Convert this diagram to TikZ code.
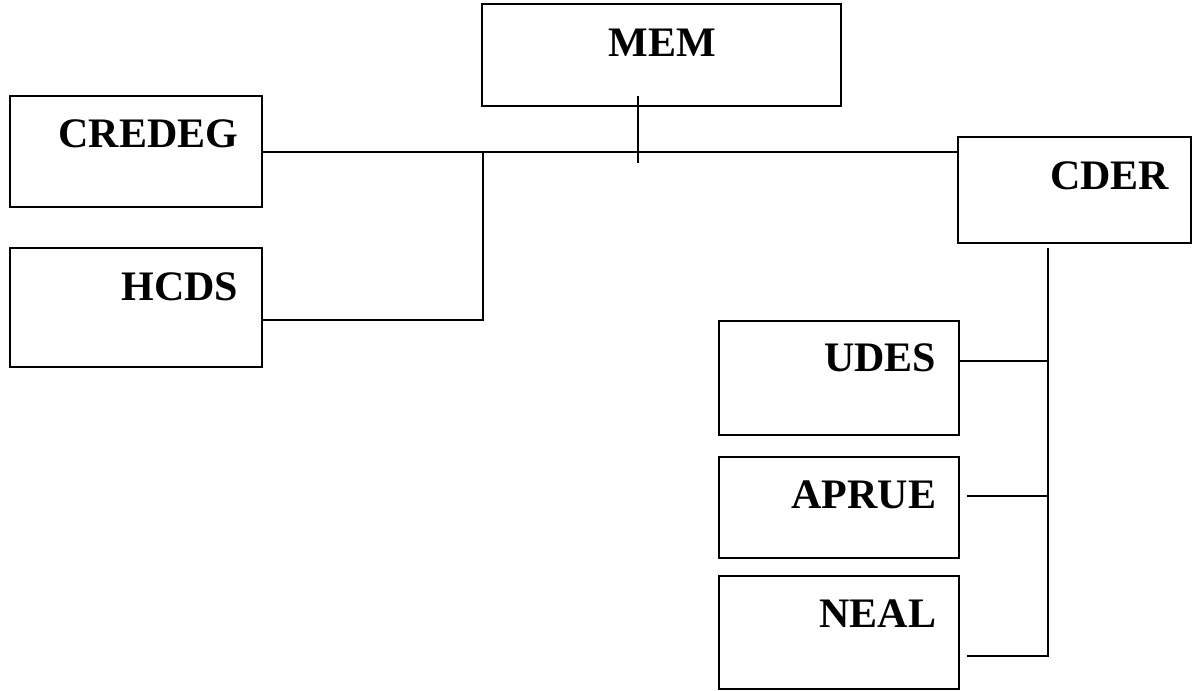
\documentclass[tikz,border=0pt]{standalone}
\usepackage{fontspec}
\setmainfont{Liberation Serif}
\begin{document}
\begin{tikzpicture}[x=1pt,y=-1pt,line width=1.5pt,
  box/.style={draw=black,line width=1.5pt,inner sep=0pt},
  lbl/.style={anchor=base east,inner sep=0pt,font=\fontsize{42}{48}\selectfont\bfseries},
  conn/.style={draw=black,line width=1.5pt}]
\useasboundingbox (0,0) rectangle (1192,691);
% boxes
\node[box,minimum width=359pt,minimum height=102pt] (mem) at (661.5,55) {};
\node[box,minimum width=252pt,minimum height=111pt] (credeg) at (136,151.5) {};
\node[box,minimum width=252pt,minimum height=119pt] (hcds) at (136,307.5) {};
\node[box,minimum width=233pt,minimum height=106pt] (cder) at (1074.5,190) {};
\node[box,minimum width=240pt,minimum height=114pt] (udes) at (839,378) {};
\node[box,minimum width=240pt,minimum height=101pt] (aprue) at (839,507.5) {};
\node[box,minimum width=240pt,minimum height=113pt] (neal) at (839,632.5) {};
% labels
\node[anchor=base,inner sep=0pt,font=\fontsize{42}{48}\selectfont\bfseries] (memt) at (662,56) {MEM};
\node[lbl] (credegt) at (239,147) {CREDEG};
\node[lbl] (hcdst) at (239,300) {HCDS};
\node[lbl] (cdert) at (1170,189) {CDER};
\node[lbl] (udest) at (937,371) {UDES};
\node[lbl] (apruet) at (937,508) {APRUE};
\node[lbl] (nealt) at (937,627) {NEAL};
% coordinates
\coordinate (hl) at (262,152);
\coordinate (mtop) at (638,96);
\coordinate (mbot) at (638,163);
\coordinate (lj) at (483,152);
\coordinate (lb) at (483,320);
\coordinate (rtop) at (1048,248);
\coordinate (ru) at (1048,361);
\coordinate (ra) at (1048,496);
\coordinate (rn) at (1048,656);
\coordinate (ae) at (967,496);
\coordinate (ne) at (967,656);
% connectors
\draw[conn] (hl) -- (hl -| cder.west);
\draw[conn] (mtop) -- (mbot);
\draw[conn] (lj) -- (lb) -- (lb -| hcds.east);
\draw[conn] (rtop) -- (rn) -- (ne);
\draw[conn] (ru -| udes.east) -- (ru);
\draw[conn] (ae) -- (ra);
\end{tikzpicture}
\end{document}
